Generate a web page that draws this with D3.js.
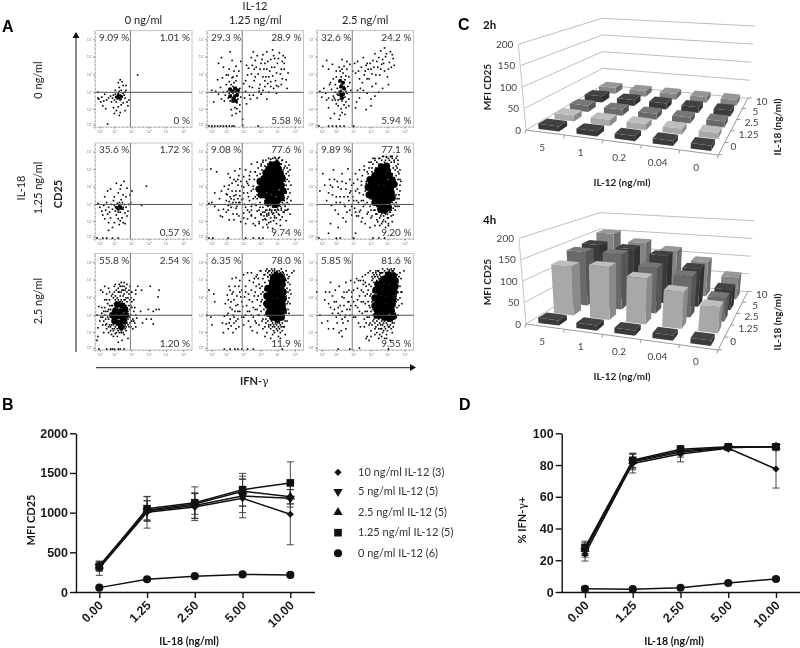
<!DOCTYPE html>
<html><head><meta charset="utf-8">
<script src="https://cdn.jsdelivr.net/npm/d3@7"></script>
<style>
html,body{margin:0;padding:0;background:#fff}
svg{display:block;filter:blur(.35px)}
text{font-family:Lato,"Open Sans",sans-serif;fill:#222}
</style></head><body>
<svg id="c" width="800" height="648"></svg>
<script>
// ---------- Panel A : flow cytometry events (channel units 0-100, flat x,y lists) ----------
const il12Labels = ["0 ng/ml","1.25 ng/ml","2.5 ng/ml"];
const il18Labels = ["0 ng/ml","1.25 ng/ml","2.5 ng/ml"];
const decadeLabels = ["10⁰","10¹","10²","10³","10⁴","10⁵"];
const xDecades = [5,20,37.6,55.6,73,91];
const yDecades = [2.4,18.6,36,54.5,73,91];
const gateX = 36.5, gateY = 36;
const pctTL = [["9.09 %","29.3 %","32.6 %"],["35.6 %","9.08 %","9.89 %"],["55.8 %","6.35 %","5.85 %"]];
const pctTR = [["1.01 %","28.9 %","24.2 %"],["1.72 %","77.6 %","77.1 %"],["2.54 %","78.0 %","81.6 %"]];
const pctBR = [["0 %","5.58 %","5.94 %"],["0.57 %","9.74 %","9.20 %"],["1.20 %","11.9 %","9.55 %"]];

const ev00 = [3,36,4,29,7,31,9,27,8,22,10,34,11,19,12,28,14,30,13,3,16,32,17,26,18,30,19,33,20,28,21,34,22,31,23,29,24,32,25,30,26,33,27,29,24,35,25,37,26,28,28,31,29,35,30,33,31,30,32,38,29,25,27,23,24,21,22,17,26,15,25,12,19,20,20,14,33,26,35,28,34,22,31,17,28,47,24,46,26,49,29,43,32,43,31,36,25,41,27,38,21,38,44,54,3,30,6,26,22,26];
const ev01 = [27,35,25,33,29,37,24,38,31,34,28,31,26,29,30,41,23,35,33,36,22,30,27,42,29,27,32,29,25,44,21,37,34,40,24,27,28,46,31,25,19,33,35,31,26,51,30,48,23,47,17,36,15,29,12,34,9,37,5,38,7,26,14,41,18,27,20,44,11,49,22,54,27,52,31,53,16,51,34,23,29,20,25,18,30,14,26,12,31,19,34,16,37,8,28,33,26,37,30,36,24,32,27,28,25,40,29,31,32,35,23,40,40,48,43,61,46,72,48,78,50,69,52,74,55,60,57,70,58,52,60,66,62,78,63,45,65,58,66,70,68,80,70,62,71,48,73,66,75,77,76,55,78,68,79,74,80,60,81,72,74,42,69,40,64,36,58,38,55,44,50,52,47,41,44,33,42,54,39,30,41,24,45,29,52,30,56,34,60,48,62,29,68,53,72,35,83,40,84,56,77,44,66,47,49,60,46,55,17,62,12,66,23,60,26,69,24,78,30,63,33,58,35,68,20,54,28,58,15,72,2,1,5,1,8,1,11,1,14,1,17,1,20,1,23,1,26,1,28,1,53,1,37,2,41,64,44,42,47,64,49,48,51,62,53,55,54,40,56,66,58,75,59,60,61,52,63,68,64,52,67,62,69,74,72,56,74,71,77,60,78,50,72,43,66,42,60,42,54,37,48,33,40,37,38,45,80,66,82,49,70,71,62,60];
const ev02 = [25,38,27,36,24,41,28,34,26,32,23,36,29,39,25,44,30,37,22,33,27,46,24,29,28,42,31,35,21,40,26,27,29,31,32,42,23,47,25,52,29,49,27,56,24,58,30,53,19,36,17,32,15,39,12,30,9,35,5,31,7,40,3,37,14,46,17,50,19,28,20,24,22,22,25,19,28,23,30,26,33,29,26,15,29,13,24,12,23,8,18,14,14,9,12,20,26,60,23,62,28,63,31,60,20,58,12,60,6,63,16,65,10,69,26,70,34,65,31,68,37,58,39,66,42,68,44,50,46,62,48,72,50,58,52,66,54,50,56,60,58,69,60,76,61,45,63,62,65,54,67,65,68,70,70,58,71,73,73,52,75,67,76,78,77,62,78,75,79,71,80,64,74,44,68,40,64,36,60,32,56,29,52,35,48,38,44,30,41,26,42,38,47,46,52,50,57,55,62,68,66,79,70,82,56,22,51,18,40,20,2,1,12,1,16,1,20,1,24,1,28,1,38,1,21,34,19,44,18,30,20,52,33,52,34,46,35,38,16,28,13,44,10,28,30,20,33,22,22,28,40,56,43,58,45,40,49,54,51,64,53,60,55,66,57,42,59,62,61,54,64,72,66,60,69,66,72,76,74,60];
const ev10 = [3,37,5,33,7,29,9,35,8,25,10,21,11,30,12,38,13,26,14,33,15,28,16,22,17,36,18,31,19,40,20,35,21,29,22,33,23,37,24,31,25,35,26,28,27,34,28,38,29,31,30,36,31,27,32,33,33,24,34,29,35,36,22,25,24,21,26,19,28,22,20,17,18,12,14,17,25,15,29,17,31,16,14,9,23,33,25,38,24,28,27,41,26,36,29,33,10,44,16,52,13,50,20,44,24,48,27,56,22,58,26,52,30,60,33,53,29,46,32,44,36,46,38,50,53,55,48,35,37,38,2,1,8,1,12,1,18,1,24,1];
const ev11 = [2,37,5,38,8,34,12,30,14,24,16,23,17,31,20,28,22,35,23,20,25,33,27,26,30,32,33,24,35,18,38,27,40,33,42,21,44,28,46,25,48,16,50,22,52,29,54,18,56,25,58,12,60,21,62,15,64,25,66,18,68,11,70,22,72,16,74,26,76,14,78,23,80,28,82,19,84,31,86,26,20,47,22,52,24,44,26,58,28,41,30,50,32,62,34,45,36,55,38,48,24,64,29,71,30,60,22,68,33,66,34,73,20,40,18,55,23,39,26,36,28,45,30,38,32,42,34,38,36,41,15,50,10,70,4,73,8,48,13,42,38,65,40,72,42,58,44,66,46,78,48,52,50,70,52,80,54,62,55,45,56,76,58,82,60,40,62,73,64,36,66,80,68,33,70,85,72,82,74,84,76,78,78,82,80,74,82,80,84,70,85,60,86,48,87,40,85,77,83,42,81,36,50,36,48,42,46,34,44,40,42,48,43,56,52,46,53,54,55,33,57,60,58,28,60,66,61,30,62,26,63,52,65,31,67,28,69,27,71,30,73,31,75,35,77,32,79,36,81,30,83,30,2,1,6,1,22,1,40,1,48,1,54,1,58,1];
const halo11 = [48,55,49,62,50,44,50,70,51,52,51,35,52,66,52,42,53,74,53,58,54,48,54,30,55,68,55,38,56,78,56,62,56,26,57,45,57,72,58,33,58,80,58,52,59,24,59,66,60,76,60,36,60,28,61,82,61,20,62,30,62,74,62,24,63,78,63,34,64,84,64,27,64,17,65,30,65,80,66,35,66,22,66,83,67,30,67,76,68,26,68,84,69,36,69,19,69,80,70,30,70,24,71,84,71,34,71,78,72,28,72,22,73,82,73,36,74,30,74,80,75,25,75,76,75,85,76,34,76,70,76,20,77,78,77,30,77,64,78,38,78,58,78,82,79,72,79,46,79,28,80,66,80,52,80,40,81,76,81,60,81,34,82,68,82,48,82,56,83,62,83,74,83,38,84,52,84,44,85,66,85,36,86,72,87,56,44,62,46,50,47,36,45,70,43,44,41,60,39,36,38,54,37,42,35,60,34,50,33,38,32,56,31,34,30,46,28,62,27,38,26,50,25,42,24,36,23,56,22,30,21,46,46,30,42,30,38,22,31,26,28,20,40,16,50,14,63,12,46,24,54,16,58,20];
const halo12 = [50,50,51,60,52,38,52,70,53,44,53,28,54,56,54,74,55,34,55,64,56,46,56,80,57,24,57,70,58,38,58,55,58,78,59,30,60,68,60,44,60,84,61,26,61,74,62,34,62,80,62,20,63,68,64,28,64,76,64,84,65,22,65,32,66,78,66,70,67,26,67,82,68,31,68,18,68,74,69,86,69,24,70,76,70,28,71,82,71,18,72,30,72,74,72,86,73,26,73,78,74,22,74,84,75,34,75,76,75,28,76,86,76,72,77,30,77,80,77,24,78,38,78,68,78,86,79,32,79,74,79,52,80,44,80,64,80,82,81,34,81,72,81,56,82,66,82,38,82,84,83,52,83,74,83,42,84,62,84,78,85,46,85,68,85,34,86,56,86,72,87,60,44,48,46,56,47,66,48,40,48,34,49,72,42,62,40,50,38,40,36,56,34,30,32,44,30,52,28,36,26,60,24,44,22,54,20,38,18,62,16,46,14,56,43,24,46,18,50,16,55,12,60,14,65,14,74,16,78,18,40,28];
const ev12 = [3,50,6,68,8,56,10,40,12,48,13,62,15,35,16,54,17,72,19,30,20,44,21,60,22,26,24,38,25,52,26,68,27,22,28,44,29,34,30,58,31,28,32,73,33,40,34,62,35,50,36,25,37,44,38,58,39,32,40,68,41,24,42,52,43,38,44,72,45,30,46,60,47,22,48,46,49,76,50,36,51,58,52,26,53,68,54,80,55,42,56,30,57,74,58,84,56,22,60,30,60,82,62,26,63,18,64,78,65,84,66,24,67,16,68,86,69,20,70,80,71,26,72,85,73,22,74,14,75,82,76,28,77,86,78,84,79,25,80,80,81,30,82,76,83,34,84,70,85,42,86,62,86,50,84,82,83,86,80,36,82,46,71,12,46,40,44,28,41,40,36,34,34,48,30,18,22,12,14,16,12,6,40,6,2,1,20,1,24,1,38,1,58,1,64,1,70,1];
const ev20 = [2,36,3,23,4,45,5,30,6,62,7,38,8,26,9,18,10,44,11,32,12,52,13,40,14,24,15,60,16,34,17,16,18,46,19,30,20,66,20,22,21,52,22,40,23,14,24,60,25,26,26,50,27,18,28,62,29,33,30,52,31,22,32,64,33,42,34,26,35,58,36,34,37,46,38,30,34,12,28,10,24,8,30,16,21,17,18,58,14,64,10,66,8,60,25,68,30,70,33,68,36,66,38,60,17,26,19,20,22,26,28,21,32,24,31,46,33,50,16,42,14,32,10,36,8,34,12,27,42,36,40,40,43,33,41,28,39,22,37,54,44,66,42,62,47,40,53,32,58,32,55,42,49,28,42,24,60,27,66,42,63,42,60,40,65,55,66,62,57,66,48,62,42,58,4,1,12,1,16,1,18,1,20,1,24,1,26,1,30,1,3,14,2,10];
const halo20 = [6,34,7,44,9,30,11,40,12,22,13,34,13,48,14,42,15,26,15,52,16,38,16,20,17,46,17,56,18,22,18,40,19,54,19,14,20,48,20,60,21,24,21,56,22,18,22,50,22,62,23,22,23,54,24,20,24,52,24,64,25,18,25,50,25,60,26,22,26,56,26,66,27,20,27,52,27,60,28,24,28,50,28,66,29,18,29,56,29,62,30,24,30,48,30,58,30,66,31,26,31,52,31,62,32,20,32,46,32,54,33,28,33,44,33,60,34,32,34,40,34,54,35,24,35,46,35,62,36,28,36,42,36,52,37,36,37,60,37,24,38,44,38,50,39,32,40,52,40,30,41,44,19,26,16,24,14,18,11,26,9,40,10,52,12,58,15,46,21,68,27,70];
const ev21 = [0,36,2,62,4,34,5,26,7,58,8,50,16,28,17,18,18,35,19,48,20,27,21,57,22,22,22,38,23,66,24,32,24,44,25,25,26,58,26,74,27,36,27,18,28,52,28,28,29,66,29,40,30,75,30,22,31,56,32,32,32,47,33,66,33,24,34,40,34,72,35,55,36,34,36,62,37,45,38,26,38,78,39,55,40,36,40,66,41,46,42,80,43,30,43,58,44,72,44,40,45,24,46,62,46,80,47,50,48,34,48,70,49,74,50,42,50,60,51,28,51,76,52,52,52,78,53,36,54,68,54,26,55,46,55,82,56,58,56,82,57,30,58,74,58,22,59,42,60,78,60,62,60,24,61,32,62,84,62,18,63,80,64,26,65,82,66,22,66,12,67,84,68,78,69,20,70,18,70,84,72,81,73,20,74,14,75,82,76,18,77,84,78,20,78,81,80,78,80,24,81,16,82,82,83,30,84,74,84,50,84,70,85,38,86,62,88,80,90,82,29,1,18,1,24,1,32,1,36,1,42,1,48,1,78,1];
const halo21 = [56,40,57,52,57,66,58,32,58,60,59,48,59,78,60,36,60,70,60,54,61,44,61,82,61,28,62,66,62,38,62,58,63,76,63,30,63,48,63,76,64,24,64,62,64,72,64,82,65,34,65,68,65,78,65,78,66,26,66,74,66,74,67,30,67,72,67,80,68,24,68,82,68,28,69,76,69,26,70,82,70,24,70,80,71,28,71,74,72,26,72,78,72,22,73,28,73,74,73,82,74,24,74,78,75,28,75,74,75,22,76,80,76,26,77,76,77,24,78,28,78,74,78,78,79,32,79,80,79,24,80,36,80,76,80,50,80,68,81,44,81,62,81,74,81,30,82,56,82,72,82,38,83,48,83,64,83,78,84,60,84,42,85,54,85,76,86,48,86,68,87,58,46,36,48,44,49,56,50,30,51,66,52,42,53,56,53,74,54,36,55,64,56,50,44,52,42,40,40,60,38,34,36,50,34,60,32,40,30,46,28,34,27,60,26,42,25,50,24,62,23,28,22,52,21,36,30,30,47,20,52,18,60,14,68,16,76,12];
const ev22 = [0,60,3,36,5,28,8,52,9,60,11,30,12,48,12,22,14,70,16,38,17,22,18,50,19,62,20,34,21,28,22,44,23,66,24,36,25,20,26,55,26,40,27,28,28,46,28,60,29,34,30,22,30,70,31,42,32,30,33,62,33,50,34,36,35,46,35,72,36,55,38,34,38,62,39,70,40,46,41,74,42,64,42,52,43,28,43,72,44,40,45,72,45,24,46,62,47,76,48,50,48,68,49,24,50,78,50,40,51,66,52,58,52,34,53,80,54,26,54,68,55,44,55,82,56,20,56,58,57,76,58,30,58,74,59,46,59,78,60,22,60,64,61,80,62,18,62,36,63,82,64,82,65,16,66,22,66,80,67,14,68,84,69,20,70,12,70,82,72,16,73,84,74,24,75,83,76,10,76,26,77,84,78,78,78,30,79,82,80,84,80,40,81,60,82,72,82,50,84,36,86,80,88,60,90,82,65,34,66,44,60,52,58,42,50,56,54,10,51,12,52,14,44,2,22,1,34,1,74,1,26,14,23,18,31,60];
const halo22 = [52,40,53,50,53,62,54,34,54,46,55,56,55,28,56,40,56,66,57,50,57,72,57,26,58,36,58,60,58,80,59,32,59,54,59,70,60,28,60,44,60,76,60,76,61,24,61,38,61,62,61,82,62,30,62,56,62,72,62,78,63,26,63,44,63,76,64,22,64,32,64,68,64,74,65,28,65,78,65,80,66,26,66,72,66,76,67,30,67,22,67,80,68,26,68,76,68,80,69,28,69,74,70,24,70,30,70,76,71,22,71,80,72,28,72,74,73,20,73,26,73,80,74,30,74,76,75,24,75,82,76,30,76,74,77,22,77,78,78,28,78,82,78,82,79,24,79,32,80,28,80,78,80,70,81,38,81,48,81,74,82,34,82,56,82,64,83,44,83,78,84,52,84,60,84,70,85,46,85,76,86,54,86,66,87,60,87,74,88,48,46,50,47,38,48,60,49,32,50,48,50,70,51,28,48,72,44,56,42,44,40,34,38,50,36,60,34,42,32,50,30,36,28,54,26,32,24,46,22,38,20,50,18,42,16,56,14,44,13,60,56,14,60,16,64,12,68,18,72,12,78,18];
const events = [[ev00,ev01,ev02],[ev10,ev11.concat(halo11),ev12.concat(halo12)],[ev20.concat(halo20),ev21.concat(halo21),ev22.concat(halo22)]];
// densest clumps of events, where single dots merge into solid black
const core00 = [22,31,25,30,27,32,24,33];
const core01 = [24,32,28,30,31,33,26,37,29,40,27,27,30,27,24,39,32,38];
const core02 = [24,36,27,34,25,42,28,40,26,30,24,48,27,46,25,33];
const core10 = [22,33,25,34,27,32,24,31];
const core11 = [58,46,63,44,68,42,73,40,77,43,60,52,65,50,70,48,75,47,79,50,57,58,62,57,67,55,72,54,77,56,59,63,64,62,69,60,74,61,78,63,61,69,66,67,71,66,76,68,64,73,69,72,74,73,67,77,72,78,66,39,71,36,63,38,54,52,55,60,56,46];
const core12 = [60,38,65,36,70,35,74,33,59,44,64,42,69,41,74,40,78,43,57,50,62,48,67,47,72,46,77,48,56,56,61,54,66,53,71,52,76,54,80,57,58,61,63,60,68,59,73,58,78,61,60,66,65,65,70,64,75,66,63,71,68,70,73,71,67,75,72,76,70,30,66,31,54,46,53,54,55,62];
const core20 = [20,30,25,28,30,30,18,36,23,35,28,34,32,36,21,41,26,40,31,42,23,47,28,46,27,24];
const core21 = [68,34,73,32,77,34,65,40,70,39,75,38,79,41,64,46,69,45,74,44,78,47,65,52,70,51,75,50,79,53,66,58,71,57,76,56,79,60,67,64,72,63,77,62,68,70,73,69,78,68,69,75,74,74,78,73,72,77,76,76,62,48,62,56,63,64,64,38];
const core22 = [65,36,70,34,75,33,79,35,62,42,67,41,72,40,77,41,63,48,68,47,73,46,78,47,64,54,69,53,74,52,79,53,65,60,70,59,75,58,80,60,66,66,71,65,76,64,81,66,68,72,73,71,78,70,71,74,76,74,81,72,74,78,79,77,60,46,60,54,61,62,63,68,62,36];
const coreSets = [[core00,core01,core02],[core10,core11,core12],[core20,core21,core22]];

// ---------- Panel C : 3-D bars ----------
const il12Cats = ["5","1","0.2","0.04","0"];
const il18Cats = ["0","1.25","2.5","5","10"];
const mfiTicks = [0,50,100,150,200];
const mfi2h = [[12,12,12,12,12],[15,15,15,14,14],[16,16,15,15,15],[17,16,16,15,15],[17,16,16,15,15]];
const mfi4h = [[12,12,12,12,12],[121,129,111,88,62],[139,142,116,103,57],[140,136,126,99,53],[154,134,118,94,59]];
const rowColours = ["#3a3a3a","#a8a8a8","#696969","#3a3a3a","#858585"];

// ---------- Panels B & D : line charts ----------
const il18Doses = ["0.00","1.25","2.50","5.00","10.00"];
const seriesNames = ["10 ng/ml IL-12 (3)","5 ng/ml IL-12 (5)","2.5 ng/ml IL-12 (5)","1.25 ng/ml IL-12 (5)","0 ng/ml IL-12 (6)"];
const mfi10 = [300,1005,1070,1180,980],  mfi10Err = [90,200,170,245,385];
const mfi5  = [320,1020,1090,1210,1180], mfi5Err  = [60,130,160,210,110];
const mfi25 = [330,1030,1110,1270,1200], mfi25Err = [50,120,130,190,90];
const mfi125= [320,1050,1125,1290,1375], mfi125Err= [45,150,200,205,265];
const mfi0  = [55,160,200,222,215],      mfi0Err  = [10,15,18,22,30];
const pct10 = [24,81,87,90.5,77.5],   pct10Err = [4.5,6,5,1.5,12];
const pct5  = [26,82,88,91,91.5],     pct5Err  = [4,5,3,1,1];
const pct25 = [27,82.5,89,91,91.5],   pct25Err = [4,4.5,2.5,1,1];
const pct125= [28,83,90,91.5,91.5],   pct125Err= [4,4.5,2,1,1];
const pct0  = [2,1.8,2.7,5.7,8.2],    pct0Err  = [1.5,.8,.8,1,1];

const svg = d3.select("#c");
const txt = (s,x,y,o={})=>{const t=svg.append("text").attr("x",x).attr("y",y).text(s)
  .attr("font-size",o.size||10.5).attr("font-weight",o.bold?"700":"400").attr("text-anchor",o.anchor||"start");
  if(o.fill)t.style("fill",o.fill); if(o.family)t.style("font-family",o.family);
  if(o.rot!==undefined)t.attr("transform",`rotate(${o.rot} ${x} ${y})`); return t;};

// panel letters
[["A",2,32],["B",2,410],["C",458,30],["D",459,410]].forEach(d=>txt(d[0],d[1],d[2],{size:16,bold:true,fill:"#000",family:"Liberation Sans"}));

// ---------- Panel A ----------
const colX = [[95,192],[207,303.5],[317,413.5]];
const rowY = [[30.6,127],[143,239],[253.5,350]];
const coreR = [[1.6,2,2],[1.6,3.6,3.6],[3.2,3.6,3.6]];
const panelA = svg.append("g");
const chan = a => d3.range(a.length/2).map(i=>[a[2*i],a[2*i+1]]);
const layerText = [];
il18Labels.forEach((_,r)=>il12Labels.forEach((_,c)=>{
  const x = d3.scaleLinear().domain([0,100]).range(colX[c]);
  const y = d3.scaleLinear().domain([0,100]).range([rowY[r][1],rowY[r][0]]);
  const g = panelA.append("g");
  g.append("rect").attr("x",colX[c][0]).attr("y",rowY[r][0]).attr("width",colX[c][1]-colX[c][0]).attr("height",rowY[r][1]-rowY[r][0])
    .attr("fill","#fff").attr("stroke","#c4c4c4").attr("stroke-width",1);
  // dense clumps
  g.selectAll(".core").data(chan(coreSets[r][c])).join("circle")
    .attr("cx",d=>x(d[0])).attr("cy",d=>y(d[1])).attr("r",coreR[r][c]).attr("fill","#000");
  // events
  g.selectAll(".ev").data(chan(events[r][c])).join("rect")
    .attr("x",d=>x(d[0])-.8).attr("y",d=>y(d[1])-.8).attr("width",1.6).attr("height",1.6).attr("fill","#000");
  // gates
  g.append("line").attr("x1",x(gateX)).attr("x2",x(gateX)).attr("y1",rowY[r][0]).attr("y2",rowY[r][1]).attr("stroke","#777").attr("stroke-width",1);
  g.append("line").attr("x1",colX[c][0]).attr("x2",colX[c][1]).attr("y1",y(gateY)).attr("y2",y(gateY)).attr("stroke","#555").attr("stroke-width",1);
  // tick marks & labels
  const ax = d3.axisBottom(x).tickValues(xDecades).tickFormat((d,i)=>decadeLabels[i]).tickSize(1.5).tickPadding(1.5);
  const axG = g.append("g").attr("transform",`translate(0,${rowY[r][1]})`).call(ax);
  const ay = d3.axisLeft(y).tickValues(yDecades).tickFormat((d,i)=>decadeLabels[i]).tickSize(1.5).tickPadding(1.5);
  const ayG = g.append("g").attr("transform",`translate(${colX[c][0]},0)`).call(ay);
  [axG,ayG].forEach(a=>{a.select(".domain").attr("stroke","#999").attr("stroke-dasharray","1 3");
    a.selectAll("line").attr("stroke","#777");
    a.selectAll("text").attr("font-size",3.6).style("fill","#888");});
  // percentages
  txt(pctTL[r][c],colX[c][0]+4,rowY[r][0]+10,{size:10,fill:"#333"});
  txt(pctTR[r][c],colX[c][1]-2,rowY[r][0]+10,{size:10,anchor:"end",fill:"#333"});
  txt(pctBR[r][c],colX[c][1]-2,rowY[r][1]-3,{size:10,anchor:"end",fill:"#333"});
}));
il12Labels.forEach((s,c)=>txt(s,(colX[c][0]+colX[c][1])/2,24,{size:11,anchor:"middle"}));
txt("IL-12",255,10,{size:11,anchor:"middle"});
il18Labels.forEach((s,r)=>txt(s,42,[80,188,301][r],{size:11,anchor:"middle",rot:-90}));
txt("IL-18",25,188,{size:11,anchor:"middle",rot:-90});
txt("CD25",62,194,{size:11,bold:true,anchor:"middle",rot:-90});
// flow axes arrows
svg.append("line").attr("x1",76).attr("x2",76).attr("y1",352).attr("y2",36).attr("stroke","#555").attr("stroke-width",1.4);
svg.append("path").attr("d","M76,32l-3.5,6h7z").attr("fill","#111");
svg.append("line").attr("x1",96).attr("x2",411).attr("y1",367.6).attr("y2",367.6).attr("stroke","#444").attr("stroke-width",1.4);
svg.append("path").attr("d","M416,367.6l-6,-3.5v7z").attr("fill","#111");
const ifn = txt("IFN-",240,385,{size:11,bold:true});
ifn.append("tspan").text("γ").style("font-weight","400").style("font-family","DejaVu Serif");

// ---------- Panel C ----------
function bars3d(box, values, titleY){
  const {fl,fr,bl,br,tfl,tfr,tbl,tbr,title} = box;
  const k = .1;
  const depth = t => t*(1+k)/(1+k*t);
  const lerp=(a,b,t)=>[a[0]+(b[0]-a[0])*t,a[1]+(b[1]-a[1])*t];
  const hS = d3.scaleLinear().domain([0,200]).range([0,1]);
  const uS = d3.scaleBand().domain(il12Cats).range([0,1]).paddingInner(.46).paddingOuter(.23);
  const vS = d3.scaleBand().domain(il18Cats).range([0,1]).paddingInner(.46).paddingOuter(.23);
  const P=(u,v,h)=>{const w=hS(h),vv=depth(v);
    const f=lerp(lerp(fl,fr,u),lerp(tfl,tfr,u),w), b=lerp(lerp(bl,br,u),lerp(tbl,tbr,u),w);
    return lerp(f,b,vv);};
  const g = svg.append("g");
  const pth = pts => "M"+pts.map(p=>p.map(n=>n.toFixed(1)).join(",")).join("L")+"Z";
  // walls
  mfiTicks.forEach(t=>{
    const a=P(0,0,t),b=P(0,1,t),c=P(1,1,t);
    g.append("path").attr("d",`M${a}L${b}L${c}`).attr("fill","none").attr("stroke","#bdbdbd").attr("stroke-width",1);
    txt(t,a[0]-5,a[1]+3.5,{size:10,anchor:"end",fill:"#444"});
  });
  const ln=(a,b,c="#999")=>g.append("line").attr("x1",a[0]).attr("y1",a[1]).attr("x2",b[0]).attr("y2",b[1]).attr("stroke",c).attr("stroke-width",1);
  ln(P(0,0,0),P(0,0,200),"#c4c4c4");
  ln(P(0,0,0),P(1,0,0)); ln(P(1,0,0),P(1,1,0));
  d3.range(6).forEach(i=>{const a=P(i/5,0,0);ln(a,[a[0]-1,a[1]+3.5],"#999");
    const b=P(1,i/5,0);ln(b,[b[0]+4,b[1]-.5],"#999");});
  il12Cats.forEach((c,i)=>{const a=P(uS(c)+uS.bandwidth()/2,0,0);txt(c,a[0]-3,a[1]+18,{size:10,anchor:"middle",fill:"#444"});});
  il18Cats.forEach((c,i)=>{const a=P(1,vS(c)+vS.bandwidth()/2,0);txt(c,a[0]+[9,11,11,13,11][i],a[1]+1,{size:10,fill:"#444"});});
  // bars back to front
  [4,3,2,1,0].forEach(r=>{
    il12Cats.forEach((c,i)=>{
      const val=values[r][i], col=d3.color(rowColours[r]);
      const u0=uS(c),u1=u0+uS.bandwidth(),v0=vS(il18Cats[r]),v1=v0+vS.bandwidth();
      const b=g.append("g");
      b.append("path").attr("d",pth([P(u1,v0,0),P(u1,v1,0),P(u1,v1,val),P(u1,v0,val)])).attr("fill",col.darker(.55));
      b.append("path").attr("d",pth([P(u0,v0,0),P(u1,v0,0),P(u1,v0,val),P(u0,v0,val)])).attr("fill",col);
      b.append("path").attr("d",pth([P(u0,v0,val),P(u1,v0,val),P(u1,v1,val),P(u0,v1,val)])).attr("fill",col.brighter(.35));
    });
  });
  txt(title,483,titleY,{size:11.5,bold:true,fill:"#111"});
}
bars3d({fl:[526,130],fr:[718.3,155],bl:[603,85],br:[747.7,98.3],tfl:[518.3,44.3],tfr:[728,66],tbl:[602,18.3],tbr:[755,26],title:"2h"},mfi2h,29);
bars3d({fl:[526,324],fr:[718,350],bl:[601,278],br:[747.7,291.7],tfl:[519,238.3],tfr:[728,260],tbl:[600,212.7],tbr:[754,220.7],title:"4h"},mfi4h,224);
[[87,127,186],[282,322,380]].forEach(d=>{
  txt("MFI CD25",491,d[0],{size:10,bold:true,anchor:"middle",rot:-90,fill:"#222"});
  txt("IL-18 (ng/ml)",781,d[1],{size:10,bold:true,anchor:"middle",rot:-90,fill:"#222"});
  txt("IL-12 (ng/ml)",622,d[2],{size:10,bold:true,anchor:"middle",fill:"#222"});
});

// ---------- Panels B & D ----------
const symbols=[d3.symbolSquare,d3.symbolTriangle,d3.symbolTriangle,d3.symbolSquare,d3.symbolCircle];
const symSize=[26,38,38,58,52];
const symRot=[45,180,0,0,0];
function lineChart(o){
  const x=d3.scalePoint().domain(il18Doses).range(o.xr);
  const y=d3.scaleLinear().domain(o.dom).range([592,433.3]);
  const g=svg.append("g");
  o.data.forEach((s,si)=>{
    const cap=3.5;
    s.v.forEach((v,i)=>{
      const X=x(il18Doses[i]),t=y(v+s.e[i]),b=y(Math.max(0,v-s.e[i]));
      g.append("path").attr("d",`M${X},${t}V${b}M${X-cap},${t}H${X+cap}M${X-cap},${b}H${X+cap}`).attr("stroke","#333").attr("fill","none").attr("stroke-width",.9);
    });
  });
  o.data.forEach((s,si)=>{
    g.append("path").datum(s.v).attr("fill","none").attr("stroke","#111").attr("stroke-width",1.5)
      .attr("d",d3.line().x((d,i)=>x(il18Doses[i])).y(d=>y(d)));
    g.selectAll(null).data(s.v).join("path")
      .attr("transform",(d,i)=>`translate(${x(il18Doses[i])},${y(d)}) rotate(${symRot[si]})`)
      .attr("d",d3.symbol().type(symbols[si]).size(symSize[si])).attr("fill","#111");
  });
  const ay=g.append("g").attr("transform",`translate(${o.x0},0)`).call(d3.axisLeft(y).tickValues(o.ticks).tickFormat(d3.format("d")).tickSize(6).tickPadding(2).tickSizeOuter(0));
  const ax=g.append("g").attr("transform",`translate(0,592)`).call(d3.axisBottom(x).tickSize(6).tickSizeOuter(0));
  ax.select(".domain").attr("d",`M${o.x0-1},0.5H${o.xEnd}`);
  [ax,ay].forEach(a=>{a.selectAll(".domain,.tick line").attr("stroke","#111").attr("stroke-width",1.4);
    a.selectAll("text").attr("font-size",12.5).attr("font-weight",700).style("font-family","Liberation Sans").style("fill","#1a1a1a");});
  ax.selectAll("text").attr("text-anchor","end").attr("x",0).attr("y",0).attr("dy",".35em").attr("transform","translate(1,11) rotate(-45)");
  txt("IL-18 (ng/ml)",o.tx,645,{size:10.5,bold:true,anchor:"middle",fill:"#111"});
  return g;
}
const mk=(v,e)=>v.map((a,i)=>({v:a,e:e[i]}));
lineChart({xr:[99.3,290.3],dom:[0,2000],x0:76,xEnd:315,ticks:[0,500,1000,1500,2000],tx:189,
  data:mk([mfi10,mfi5,mfi25,mfi125,mfi0],[mfi10Err,mfi5Err,mfi25Err,mfi125Err,mfi0Err])});
lineChart({xr:[585,776],dom:[0,100],x0:561.7,xEnd:800,ticks:[0,20,40,60,80,100],tx:674,
  data:mk([pct10,pct5,pct25,pct125,pct0],[pct10Err,pct5Err,pct25Err,pct125Err,pct0Err])});
txt("MFI CD25",35,520,{size:11,bold:true,anchor:"middle",rot:-90,fill:"#111"});
const pg=txt("% IFN-",526,520,{size:11,bold:true,rot:-90,anchor:"middle",fill:"#111"});
pg.append("tspan").text("γ").style("font-weight","400").style("font-family","DejaVu Serif");
pg.append("tspan").text("+");
// legend
const legendY=[472.3,491.7,512.3,532.7,553.3];
seriesNames.forEach((s,i)=>{
  svg.append("path").attr("transform",`translate(338,${legendY[i]}) rotate(${symRot[i]})`).attr("d",d3.symbol().type(symbols[i]).size(symSize[i])).attr("fill","#111");
  txt(s,358,legendY[i]+3.5,{size:11,fill:"#333"});
});
</script></body></html>
